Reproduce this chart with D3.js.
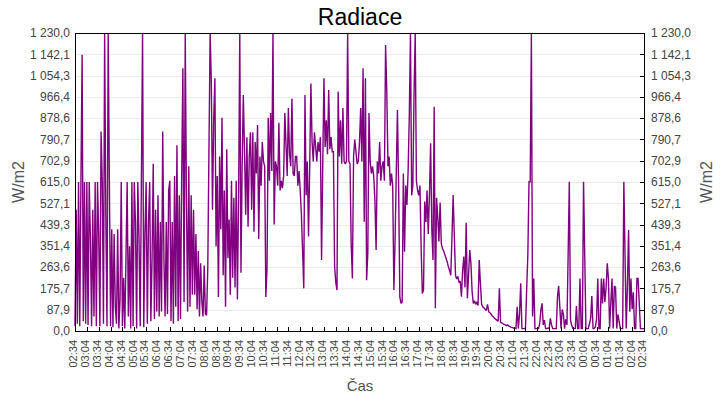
<html>
<head>
<title>Radiace</title>
<script src="https://d3js.org/d3.v7.min.js"></script>
<style>
    body{ margin:0; background:#fff; }
    text{ font-family:"Liberation Sans", Arial, sans-serif; }
</style>
</head>
<body>
<svg id="chart" width="720" height="400"></svg>
<script>

    var timeLabels = ["02:34","03:04","03:34","04:04","04:34","05:04","05:34","06:04","06:34","07:04",
        "07:34","08:04","08:34","09:04","09:34","10:04","10:34","11:04","11:34","12:04","12:34","13:04",
        "13:34","14:04","14:34","15:04","15:34","16:04","16:34","17:04","17:34","18:04","18:34","19:04",
        "19:34","20:04","20:34","21:04","21:34","22:04","22:34","23:04","23:34","00:04","00:34","01:04",
        "01:34","02:04","02:34"];
    var yTicks = [0, 87.9, 175.7, 263.6, 351.4, 439.3, 527.1, 615.0, 702.9, 790.7, 878.6, 966.4, 1054.3, 1142.1, 1230.0];
    var stepMin = 3; // one value every 3 minutes from 02:34
    var radiace = [
        20, 500, 30, 615, 20, 615, 1140, 40, 615, 30,      // 02:34
        615, 25, 615, 380, 20, 500, 60, 615, 20, 615,      // 03:04
        400, 20, 823, 615, 30, 1230, 480, 20, 1230, 615,   // 03:34
        20, 420, 15, 400, 100, 30, 420, 10, 130, 615,      // 04:04
        20, 220, 10, 300, 615, 60, 350, 10, 615, 20,       // 04:34
        615, 450, 10, 615, 380, 20, 615, 1230, 15, 400,    // 05:04
        615, 30, 450, 615, 40, 300, 690, 50, 500, 80,      // 05:34
        560, 60, 450, 80, 823, 300, 60, 450, 70, 580,      // 06:04
        620, 40, 450, 30, 640, 100, 767, 40, 560, 50,      // 06:34
        640, 1084, 120, 1230, 540, 80, 680, 100, 560, 150, // 07:04
        500, 150, 400, 90, 330, 60, 280, 120, 60, 270,     // 07:34
        70, 65, 260, 747, 1230, 1030, 500, 870, 1043, 350, // 08:04
        640, 140, 720, 420, 880, 230, 580, 100, 750, 300,  // 08:34
        460, 150, 620, 220, 550, 180, 620, 130, 550, 1230, // 09:04
        240, 680, 974, 740, 480, 800, 430, 720, 820, 500,  // 09:34
        820, 410, 780, 650, 850, 380, 720, 600, 780, 700,  // 10:04
        680, 140, 260, 880, 620, 900, 660, 1230, 440, 700, // 10:34
        680, 600, 860, 580, 620, 590, 640, 900, 770, 640,  // 11:04
        920, 730, 680, 960, 650, 640, 720, 720, 600, 660,  // 11:34
        580, 480, 330, 176, 974, 560, 700, 390, 680, 1022, // 12:04
        780, 700, 820, 760, 700, 780, 740, 800, 293, 690,  // 12:34
        1043, 760, 870, 730, 995, 750, 800, 740, 740, 266, // 13:04
        200, 169, 988, 720, 870, 690, 920, 700, 690, 700,  // 13:34
        1230, 700, 690, 355, 217, 720, 790, 740, 690, 700, // 14:04
        780, 920, 700, 1084, 451, 1043, 210, 320, 900, 700,// 14:34
        650, 680, 640, 540, 334, 700, 650, 780, 620, 680,  // 15:04
        700, 620, 1180, 995, 680, 720, 600, 650, 600, 169, // 15:34
        369, 650, 912, 600, 142, 114, 120, 650, 327, 600,  // 16:04
        520, 660, 885, 1230, 560, 600, 974, 1230, 620, 580,// 16:34
        560, 600, 341, 155, 170, 534, 450, 580, 400, 560,  // 17:04
        775, 420, 293, 926, 94, 550, 470, 370, 530, 360,   // 17:34
        340, 330, 315, 300, 285, 265, 250, 230, 389, 561,  // 18:04
        389, 230, 215, 225, 200, 205, 142, 252, 307, 180,  // 18:34
        447, 135, 230, 334, 279, 162, 114, 125, 110, 120,  // 19:04
        105, 293, 197, 110, 100, 95, 90, 85, 110, 80,      // 19:34
        75, 70, 62, 58, 52, 48, 44, 40, 176, 36,           // 20:04
        34, 30, 27, 25, 22, 25, 20, 18, 15, 14,            // 20:34
        12, 12, 10, 100, 10, 70, 197, 10, 10, 10,          // 21:04
        10, 169, 314, 616, 616, 1230, 60, 217, 10, 10,     // 21:34
        10, 10, 30, 86, 114, 25, 45, 10, 10, 12,           // 22:04
        10, 52, 25, 10, 10, 10, 10, 140, 186, 100,         // 22:34
        10, 89, 70, 10, 48, 25, 314, 616, 45, 25,          // 23:04
        10, 10, 10, 103, 10, 10, 217, 10, 10, 616,         // 23:34
        314, 10, 10, 10, 30, 52, 144, 10, 10, 18,          // 00:04
        50, 217, 10, 10, 217, 114, 217, 120, 176, 279,     // 00:34
        217, 10, 114, 217, 10, 186, 180, 10, 69, 41,       // 01:04
        10, 10, 10, 616, 314, 10, 183, 417, 80, 217,       // 01:34
        90, 160, 10, 10, 217, 217, 114, 10, 10, 10,        // 02:04
        10                                                 // 02:34
    ];

    var margin = {left: 75, right: 76, top: 33, bottom: 69};
    var width = 720 - margin.left - margin.right;
    var height = 400 - margin.top - margin.bottom;

    var svg = d3.select('#chart');
    var g = svg.append('g').attr('transform', 'translate(' + margin.left + ',' + margin.top + ')');

    var x = d3.scaleLinear().domain([0, 1440]).range([0, width]);
    var y = d3.scaleLinear().domain([0, 1230]).range([height, 0]);

    var loc = d3.formatLocale({decimal: ',', thousands: ' ', grouping: [3], currency: ['', '']});
    var fmt = loc.format(',.1f');

    // grid lines
    g.selectAll('.grid').data(yTicks).enter().append('line')
        .attr('class', 'grid')
        .attr('x1', 0).attr('x2', width)
        .attr('y1', function(d){ return Math.round(y(d)) + 0.5; })
        .attr('y2', function(d){ return Math.round(y(d)) + 0.5; })
        .attr('stroke', '#ebebeb')
        .attr('shape-rendering', 'crispEdges');

    // data line
    var line = d3.line()
        .x(function(d, i){ return x(i * stepMin); })
        .y(function(d){ return y(d); });
    g.append('path')
        .datum(radiace)
        .attr('d', line)
        .attr('fill', 'none')
        .attr('stroke', '#800080')
        .attr('stroke-width', 1.4)
        .attr('stroke-linejoin', 'miter')
        .attr('stroke-miterlimit', 2);

    // axes
    var leftAxis = g.append('g')
        .call(d3.axisLeft(y).tickValues(yTicks).tickFormat(fmt).tickSize(0).tickPadding(5));
    var rightAxis = g.append('g')
        .attr('transform', 'translate(' + width + ',0)')
        .call(d3.axisRight(y).tickValues(yTicks).tickFormat(fmt).tickSize(-4).tickPadding(7));
    var bottomAxis = g.append('g')
        .attr('transform', 'translate(0,' + height + ')')
        .call(d3.axisBottom(x).tickValues(d3.range(0, 1441, 30))
            .tickFormat(function(d, i){ return timeLabels[i]; }).tickSize(-4));

    bottomAxis.selectAll('text')
        .attr('transform', 'rotate(-90)')
        .attr('text-anchor', 'end')
        .attr('x', -9)
        .attr('y', -2)
        .attr('dy', '0.35em');

    [leftAxis, rightAxis, bottomAxis].forEach(function(a){
        a.select('.domain').remove();
        a.selectAll('line').attr('stroke', '#000').attr('shape-rendering', 'crispEdges');
        a.selectAll('text').attr('fill', '#444').style('font-family', '"Liberation Sans", Arial, sans-serif');
    });
    leftAxis.selectAll('text').style('font-size', '12px');
    rightAxis.selectAll('text').style('font-size', '12px');
    bottomAxis.selectAll('text').style('font-size', '11px');

    // frame
    g.append('rect')
        .attr('x', 0.5).attr('y', 0.5)
        .attr('width', width).attr('height', height)
        .attr('fill', 'none')
        .attr('stroke', '#000')
        .attr('shape-rendering', 'crispEdges');

    // titles
    svg.append('text')
        .attr('x', 360).attr('y', 25)
        .attr('text-anchor', 'middle')
        .style('font-size', '23px')
        .attr('fill', '#000')
        .text('Radiace');

    svg.append('text')
        .attr('transform', 'translate(24,182) rotate(-90)')
        .attr('text-anchor', 'middle')
        .style('font-size', '16px')
        .attr('fill', '#555')
        .text('W/m2');

    svg.append('text')
        .attr('transform', 'translate(712,182) rotate(-90)')
        .attr('text-anchor', 'middle')
        .style('font-size', '16px')
        .attr('fill', '#555')
        .text('W/m2');

    svg.append('text')
        .attr('x', 360).attr('y', 391)
        .attr('text-anchor', 'middle')
        .style('font-size', '15px')
        .attr('fill', '#555')
        .text('Čas');

</script>
</body>
</html>
